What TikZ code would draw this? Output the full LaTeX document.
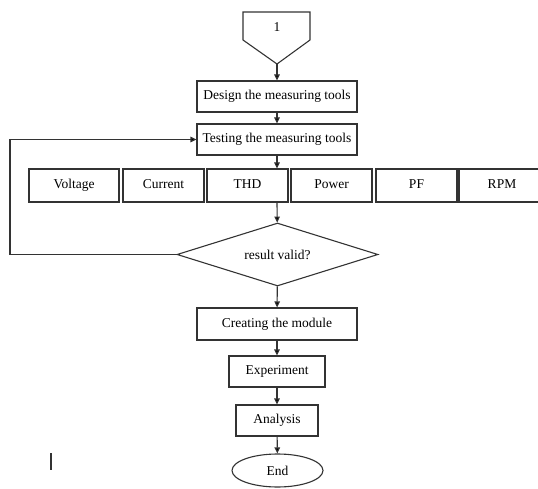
\documentclass[tikz,border=0pt]{standalone}
\usepackage{fontspec}
\setmainfont{Liberation Serif}
\usepackage{tikz}
\usetikzlibrary{shapes}
\usetikzlibrary{shapes.geometric}
\usetikzlibrary{positioning}
\usetikzlibrary{arrows.meta}
\tikzset{
    mybox/.style = {rectangle, line width=1.1pt, draw=black!80, align=center, inner sep=1pt, minimum height=31pt, text height=9.5pt, text depth=3pt, text=black},
    myrow/.style = {rectangle, line width=1.1pt, draw=black!80, align=center, inner sep=1pt, minimum height=33pt, text height=9.5pt, text depth=3pt, text=black},
    mydiamond/.style = {diamond, aspect=3.2, line width=1.1pt, draw=black!80, inner sep=1pt, minimum width=201pt, minimum height=63pt, text=black},
    myend/.style = {ellipse, line width=1.1pt, draw=black!80, inner sep=1pt, minimum width=91pt, minimum height=33pt, text=black},
    edgen/.style = {-, line width=1.1pt, black!80},
    edgea/.style = {-{Triangle[length=6pt,width=5.5pt,fill=black]}, line width=1.1pt, black!80},
    every picture/.style={font issue=\fontsize{13.5}{16}},
    font issue/.style={execute at begin picture={#1\selectfont}}
}
\begin{document}
\begin{tikzpicture}[x=1pt,y=-1pt]
\useasboundingbox (0,0) rectangle (538,489);
\clip (0,0) rectangle (538,489);
% off-page connector
\draw[edgen] (243,12) -- (310,12) -- (310,40) -- (277,64) -- (243,40) -- cycle;
\node at (277,27) (one) {1};
\coordinate (tip) at (277,64);
%
\node[mybox, minimum width=160pt] at (277,96.5) (design) {Design the measuring tools};
\node[mybox, minimum width=160pt] at (277,139.5) (testing) {Testing the measuring tools};
%
\node[myrow, minimum width=90pt] at (74,185.5) (voltage) {Voltage};
\node[myrow, minimum width=81pt] at (163.5,185.5) (current) {Current};
\node[myrow, minimum width=81pt] at (247.5,185.5) (thd) {THD};
\node[myrow, minimum width=81pt] at (331.5,185.5) (power) {Power};
\node[myrow, minimum width=81pt] at (416.5,185.5) (pf) {PF};
\node[myrow, minimum width=86pt] at (502,185.5) (rpm) {RPM};
%
\node[mydiamond] at (277.5,254.5) (valid) {result valid?};
\coordinate (back) at (10,254.5);
%
\node[mybox, minimum width=160pt, minimum height=32pt] at (277,324) (module) {Creating the module};
\node[mybox, minimum width=96pt] at (277,371.5) (experiment) {Experiment};
\node[mybox, minimum width=82pt] at (277,420.5) (analysis) {Analysis};
\node[myend] at (277.5,470.5) (end) {End};
%
\draw[edgea] (tip) -- (design);
\draw[edgea] (design) -- (testing);
\draw[edgea] (testing) -- (testing |- thd.north);
\draw[edgea] (testing |- thd.south) -- (valid);
\draw[edgea] (valid.west) -- (back) |- (testing.west);
\draw[edgea] (valid) -- (module);
\draw[edgea] (module) -- (experiment);
\draw[edgea] (experiment) -- (analysis);
\draw[edgea] (analysis) -- (end);
%
\draw[line width=1.5pt, black!80] (51,453) -- (51,470);
\end{tikzpicture}
\end{document}
